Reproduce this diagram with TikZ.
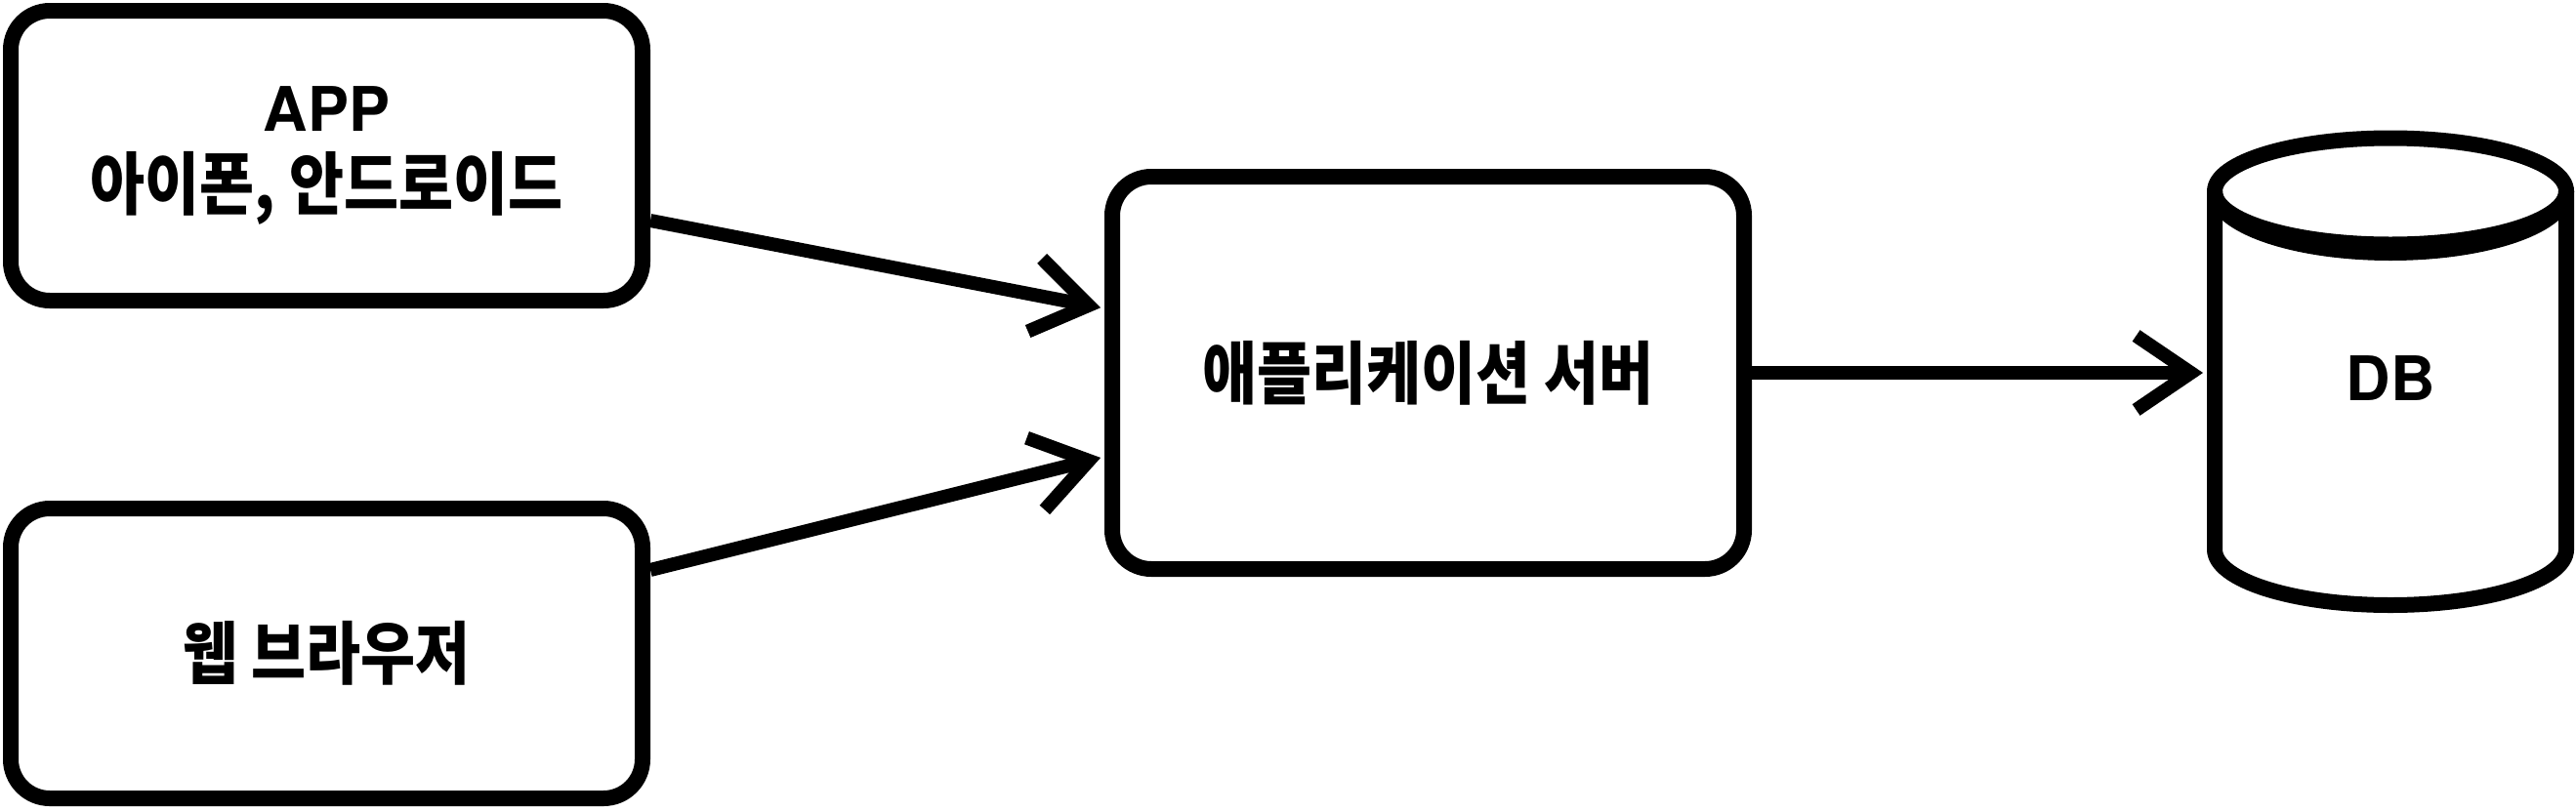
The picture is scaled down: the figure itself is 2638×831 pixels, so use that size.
\documentclass[tikz,border=0pt]{standalone}
\usepackage{fontspec}
\newfontfamily\krfont[FakeStretch=0.87]{Noto Sans CJK KR}
\newfontfamily\enfont{TeX Gyre Heros}
\usetikzlibrary{positioning,arrows.meta}
\tikzset{sketch/.style={line width=7pt, shorten >=2pt, -{Straight Barb[length=28pt,width=38pt]}}}

\begin{document}
\begin{tikzpicture}[x=0.5pt, y=0.5pt, font=\krfont\bfseries\fontsize{35}{40}\selectfont]
        \useasboundingbox (0,0) rectangle (2638,-831);

        \node[rectangle, rounded corners=20pt, draw=black, line width=8pt, minimum width=323.5pt, minimum height=148.5pt, align=center] (app) at (334.5,-159.5) {{\enfont\bfseries\fontsize{31.5}{40}\selectfont APP}\\아이폰, 안드로이드};
        \node[rectangle, rounded corners=20pt, draw=black, line width=8pt, minimum width=323.5pt, minimum height=148.5pt] (web) [below=98.5pt of app] {웹 브라우저};
        \node[rectangle, rounded corners=20pt, draw=black, line width=8pt, minimum width=323.5pt, minimum height=201pt] (server) at (1462.5,-382) {애플리케이션 서버};
        \node[rectangle, minimum width=188pt, outer sep=0pt, font=\enfont\bfseries\fontsize{31.5}{40}\selectfont] (db) at (2448,-388) {DB};

        % cylinder around db
        \draw[line width=8pt] (2448,-196) ellipse [x radius=90pt, y radius=27.25pt];
        \draw[line width=8pt] (2268,-196) arc[start angle=180, end angle=360, x radius=90pt, y radius=31.5pt];
        \draw[line width=8pt] (2268,-196) -- (2268,-563) arc[start angle=180, end angle=360, x radius=90pt, y radius=28.5pt] -- (2628,-196);

        \draw[sketch] ([yshift=-33.25pt]app.east) -- ([yshift=33pt]server.west);
        \draw[sketch] ([yshift=42.75pt]web.east) -- ([yshift=-43pt]server.west);
        \draw[sketch] (server.east) -- (server.east -| db.west);
    \end{tikzpicture}
\end{document}
